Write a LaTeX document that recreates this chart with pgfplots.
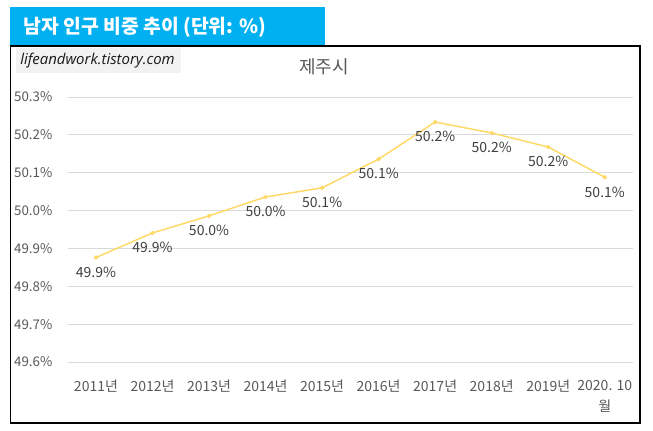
\documentclass[border=0pt]{standalone}
\usepackage{fontspec}
\setmainfont{Noto Sans CJK KR}
\newfontfamily\wmfont{Open Sans}
\usepackage{pgfplots}
\pgfplotsset{compat=1.18}
\definecolor{barblue}{HTML}{00B0F0}
\definecolor{lineyellow}{HTML}{FFD966}
\definecolor{gridgray}{HTML}{D9D9D9}
\definecolor{ticktext}{HTML}{595959}
\definecolor{labeltext}{HTML}{404040}
\definecolor{wmgray}{HTML}{F2F2F2}
\begin{document}
\begin{tikzpicture}[x=0.75pt,y=-0.75pt]
\path[use as bounding box, fill=white] (0,0) rectangle (653,430);
\fill[barblue] (10,7) rectangle (325,46);
\node[anchor=west, text=white, font=\fontsize{14.5}{18}\selectfont\bfseries, inner sep=0pt] at (23,27) {남자 인구 비중 추이 (단위: \%)};
\draw[black, line width=1.1pt] (10.5,46) rectangle (640,423);
\fill[wmgray] (16,48) rectangle (181,73);
\node[anchor=west, inner sep=0pt, text=black!90, font=\wmfont\itshape\fontsize{11.2}{13}\selectfont] at (20,61) {lifeandwork.tistory.com};
\node[text=ticktext, font=\fontsize{13.5}{16}\selectfont, inner sep=0pt] at (324,67) {제주시};
\begin{axis}[
  at={(50.775pt,-271.5pt)}, anchor=south west,
  scale only axis, width=424pt, height=198.75pt,
  xmin=-0.5, xmax=9.5, ymin=49.6, ymax=50.3,
  axis line style={draw=none},
  major tick length=0pt,
  ytick={49.6,49.7,49.8,49.9,50.0,50.1,50.2,50.3},
  ymajorgrids, grid style={gridgray, line width=0.75pt},
  /pgf/number format/assume math mode=true,
  yticklabel={\pgfmathprintnumber[fixed,precision=1,fixed zerofill]{\tick}\%},
  yticklabel style={text=ticktext, font=\fontsize{10}{12}\selectfont, xshift=-8pt},
  xtick={0,1,2,3,4,5,6,7,8,9},
  xticklabels={2011년,2012년,2013년,2014년,2015년,2016년,2017년,2018년,2019년,{2020. 10\\월}},
  xticklabel style={text=ticktext, font=\fontsize{10.5}{16}\selectfont, align=center, yshift=-10pt},
  clip=false,
]
\addplot[color=lineyellow, line width=1.1pt, mark=*, mark size=1pt,
  mark options={fill=lineyellow, draw=lineyellow},
  nodes near coords={\pgfmathprintnumber[fixed,precision=1,fixed zerofill]{\pgfplotspointmeta}\%},
  every node near coord/.append style={anchor=center, yshift=-11pt, text=labeltext, font=\fontsize{10.5}{12}\selectfont}]
coordinates {
(0,49.876) (1,49.941) (2,49.986) (3,50.036) (4,50.060)
(5,50.136) (6,50.234) (7,50.205) (8,50.168) (9,50.088)
};
\end{axis}
\end{tikzpicture}
\end{document}
